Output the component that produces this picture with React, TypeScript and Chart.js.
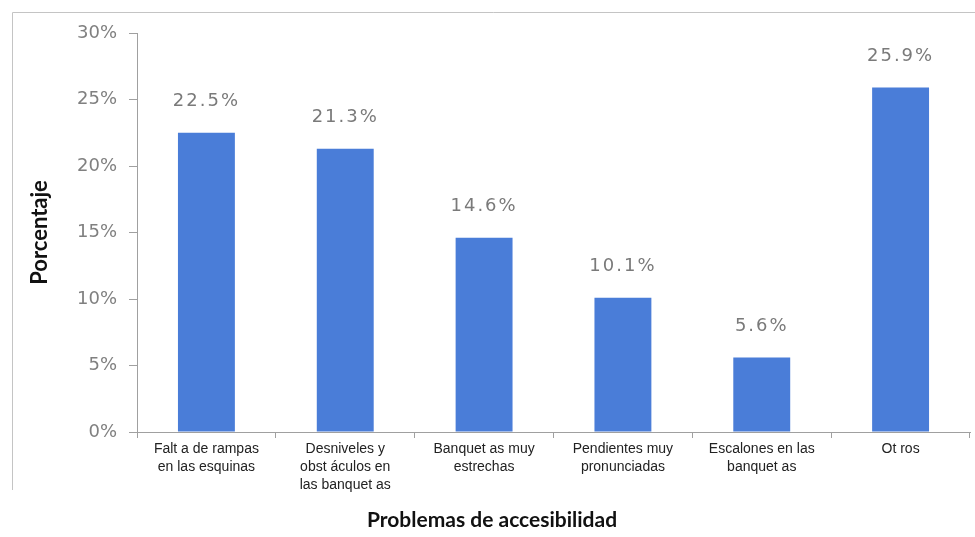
import React, { useEffect, useRef } from 'react';
import { Chart, registerables } from 'chart.js';

Chart.register(...registerables);

const categories: string[][] = [
  ['Falt a de rampas', 'en las esquinas'],
  ['Desniveles y', 'obst áculos en', 'las banquet as'],
  ['Banquet as muy', 'estrechas'],
  ['Pendientes muy', 'pronunciadas'],
  ['Escalones en las', 'banquet as'],
  ['Ot ros'],
];
const values = [22.5, 21.3, 14.6, 10.1, 5.6, 25.9];
const yMin = 0;
const yMax = 30;
const yStep = 5;
const yTitle = 'Porcentaje';
const xTitle = 'Problemas de accesibilidad';

const barColor = '#4a7dd8';
const axisColor = '#a0a0a0';

const dataLabelPlugin = {
  id: 'dataLabels',
  afterDatasetsDraw(chart: any) {
    const ctx = chart.ctx;
    const meta = chart.getDatasetMeta(0);
    ctx.save();
    ctx.font = '18px "DejaVu Sans"';
    ctx.fillStyle = '#7a7a7a';
    ctx.textAlign = 'center';
    ctx.textBaseline = 'middle';
    try { (ctx as any).letterSpacing = '2px'; } catch (e) {}
    meta.data.forEach((el: any, i: number) => {
      ctx.fillText(values[i].toFixed(1) + '%', el.x, el.y - 31);
    });
    ctx.restore();
  },
};

const framePlugin = {
  id: 'frame',
  beforeDraw(chart: any) {
    const ctx = chart.ctx;
    ctx.save();
    ctx.strokeStyle = '#c4c4c4';
    ctx.lineWidth = 1;
    ctx.beginPath();
    ctx.moveTo(12.5, 490);
    ctx.lineTo(12.5, 12.5);
    ctx.lineTo(975, 12.5);
    ctx.stroke();
    ctx.restore();
  },
};

const xTitlePlugin = {
  id: 'xTitle',
  afterDraw(chart: any) {
    const ctx = chart.ctx;
    ctx.save();
    ctx.font = 'bold 21px Lato';
    ctx.fillStyle = '#111';
    ctx.textAlign = 'center';
    ctx.textBaseline = 'middle';
    ctx.fillText(xTitle, 492, 520);
    ctx.restore();
  },
};

export default function App() {
  const ref = useRef<HTMLCanvasElement>(null);
  useEffect(() => {
    if (!ref.current) return;
    const chart = new Chart(ref.current, {
      type: 'bar',
      data: {
        labels: categories,
        datasets: [
          {
            data: values,
            backgroundColor: barColor,
            barPercentage: 0.41,
            categoryPercentage: 1,
          },
        ],
      },
      options: {
        responsive: false,
        animation: false,
        layout: { padding: { top: 33, right: 5, left: 0, bottom: 0 } },
        plugins: {
          legend: { display: false },
          tooltip: { enabled: false },
        },
        scales: {
          x: {
            grid: { offset: true, drawOnChartArea: false, tickLength: 6, color: axisColor },
            border: { color: axisColor },
            ticks: {
              font: { family: '"Liberation Sans Narrow", "Liberation Sans"', size: 14, lineHeight: 1.3 },
              color: '#222',
              maxRotation: 0,
              autoSkip: false,
              padding: 2,
            },
            afterFit(s: any) {
              s.height = 105;
            },
          },
          y: {
            min: yMin,
            max: yMax,
            ticks: {
              stepSize: yStep,
              callback: (v: any) => v + '%',
              font: { family: '"DejaVu Sans"', size: 18 },
              color: '#808080',
              padding: 12,
            },
            grid: { drawOnChartArea: false, tickLength: 8, color: axisColor },
            border: { color: axisColor },
            title: {
              display: true,
              text: yTitle,
              font: { family: 'Lato', size: 22, weight: 'bold' },
              color: '#111',
              padding: { top: 27, bottom: 0 },
            },
            afterFit(s: any) {
              s.width = 137;
            },
          },
        },
      },
      plugins: [framePlugin, dataLabelPlugin, xTitlePlugin],
    });
    return () => chart.destroy();
  }, []);
  return (
    <div style={{ position: 'absolute', left: 0, top: 0, width: 975, height: 537, background: '#fff' }}>
      <canvas ref={ref} width={975} height={537} style={{ display: 'block' }} />
    </div>
  );
}
